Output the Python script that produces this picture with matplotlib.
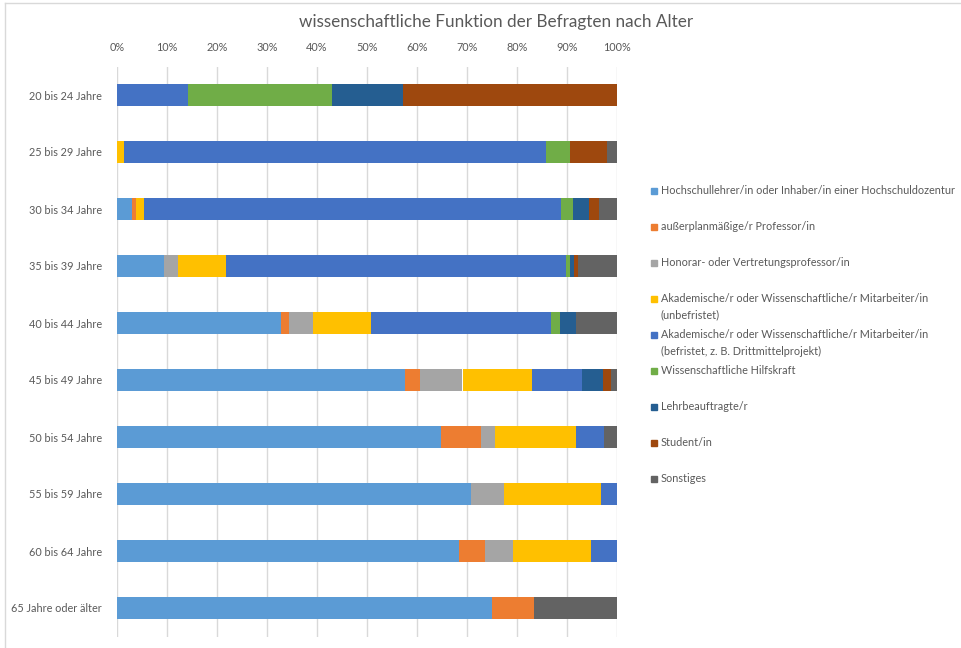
import matplotlib.pyplot as plt
from matplotlib.patches import Rectangle
from matplotlib.lines import Line2D

plt.rcParams["font.family"] = ["Lato", "DejaVu Sans"]

# Kategorien (Altersgruppen)
ages = [
    "20 bis 24 Jahre", "25 bis 29 Jahre", "30 bis 34 Jahre", "35 bis 39 Jahre",
    "40 bis 44 Jahre", "45 bis 49 Jahre", "50 bis 54 Jahre", "55 bis 59 Jahre",
    "60 bis 64 Jahre", "65 Jahre oder älter",
]

# Anteile in % je Funktion
hochschullehrer = [0, 0, 3.0, 9.45, 32.9, 57.7, 64.9, 70.9, 68.5, 75.0]
apl_professor = [0, 0, 0.8, 0, 1.6, 3.0, 8.0, 0, 5.2, 8.5]
honorarprof = [0, 0, 0, 2.8, 4.7, 8.4, 2.8, 6.5, 5.4, 0]
wima_unbefristet = [0, 1.35, 1.7, 9.6, 11.7, 14.0, 16.1, 19.4, 15.8, 0]
wima_befristet = [14.3, 84.5, 83.3, 67.9, 36.0, 9.9, 5.6, 3.2, 5.1, 0]
hilfskraft = [28.6, 4.8, 2.5, 0.8, 1.8, 0, 0, 0, 0, 0]
lehrbeauftragte = [14.3, 0, 3.2, 0.8, 3.2, 4.2, 0, 0, 0, 0]
student = [42.8, 7.4, 1.9, 0.9, 0, 1.5, 0, 0, 0, 0]
sonstiges = [0, 2.0, 3.6, 7.8, 8.2, 1.4, 2.6, 0, 0, 16.5]

series_labels = [
    "Hochschullehrer/in oder Inhaber/in einer Hochschuldozentur",
    "außerplanmäßige/r Professor/in",
    "Honorar- oder Vertretungsprofessor/in",
    "Akademische/r oder Wissenschaftliche/r Mitarbeiter/in\n(unbefristet)",
    "Akademische/r oder Wissenschaftliche/r Mitarbeiter/in\n(befristet, z. B. Drittmittelprojekt)",
    "Wissenschaftliche Hilfskraft",
    "Lehrbeauftragte/r",
    "Student/in",
    "Sonstiges",
]
series = [hochschullehrer, apl_professor, honorarprof, wima_unbefristet, wima_befristet,
          hilfskraft, lehrbeauftragte, student, sonstiges]
colors = ["#5B9BD5", "#ED7D31", "#A5A5A5", "#FFC000", "#4472C4",
          "#70AD47", "#255E91", "#9E480E", "#636363"]

W, H = 962, 648
text_col = "#595959"
fig = plt.figure(figsize=(W / 100, H / 100), dpi=100)
ax = fig.add_axes([117 / W, 1 - 636.5 / H, 500 / W, 570 / H])

ypos = list(range(len(ages)))
left = [0.0] * len(ages)
for vals, col in zip(series, colors):
    ax.barh(ypos, vals, left=left, height=0.39, color=col, linewidth=0)
    left = [a + b for a, b in zip(left, vals)]

ax.set_xlim(0, 100)
ax.set_ylim(len(ages) - 0.5, -0.5)
ax.set_yticks(ypos)
ax.set_yticklabels(ages, fontsize=7.8, color=text_col)
ax.set_xticks(range(0, 101, 10))
ax.set_xticklabels([f"{v}%" for v in range(0, 101, 10)], fontsize=7.8, color=text_col)
ax.xaxis.tick_top()
ax.tick_params(axis="y", length=0, pad=11)
ax.tick_params(axis="x", length=0, pad=10)
ax.grid(axis="x", color="#D9D9D9", linewidth=1)
ax.set_axisbelow(True)
for s in ax.spines.values():
    s.set_visible(False)

fig.text(496 / W, 1 - 22 / H, "wissenschaftliche Funktion der Befragten nach Alter",
         ha="center", va="center", fontsize=12.3, color=text_col)

# Legende von Hand, Markierung jeweils an der ersten Zeile
for i, (lab, col) in enumerate(zip(series_labels, colors)):
    yp = 191 + 36 * i
    fig.patches.append(Rectangle((651 / W, 1 - (yp + 3) / H), 6 / W, 6 / H,
                                 transform=fig.transFigure, color=col))
    for k, line in enumerate(lab.split("\n")):
        fig.text(661 / W, 1 - (yp + 16 * k) / H, line, ha="left", va="center",
                 fontsize=7.8, color=text_col)

# Rahmen des Diagrammbereichs
fig.lines.append(Line2D([5 / W, 5 / W], [0, 1 - 3 / H], transform=fig.transFigure,
                        color="#D9D9D9", linewidth=1))
fig.lines.append(Line2D([5 / W, 1], [1 - 3 / H, 1 - 3 / H], transform=fig.transFigure,
                        color="#D9D9D9", linewidth=1))

fig.savefig("out.png", dpi=100)
